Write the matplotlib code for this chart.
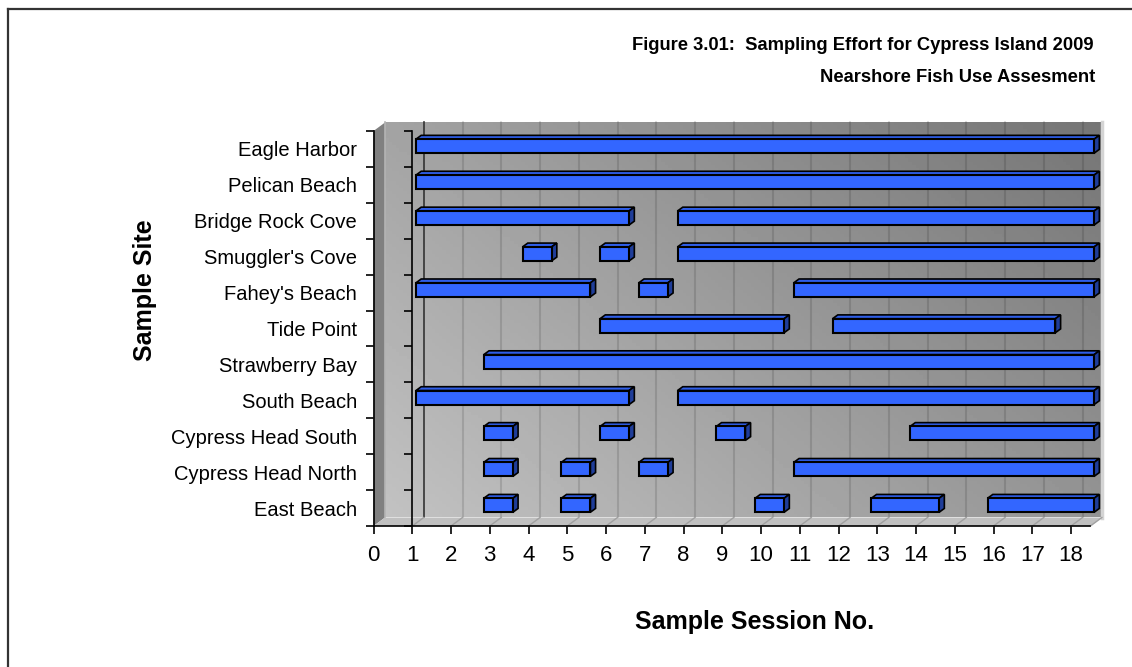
import numpy as np
import matplotlib
matplotlib.use("Agg")
import matplotlib.pyplot as plt
import matplotlib.transforms as mtransforms
from matplotlib.patches import Polygon
from matplotlib.lines import Line2D

plt.rcParams['font.family'] = ['Liberation Sans', 'DejaVu Sans']

# sites listed bottom to top
sites = ["East Beach", "Cypress Head North", "Cypress Head South", "South Beach",
         "Strawberry Bay", "Tide Point", "Fahey's Beach", "Smuggler's Cove",
         "Bridge Rock Cove", "Pelican Beach", "Eagle Harbor"]
seg_starts = [[2.75, 4.75, 9.75, 12.75, 15.75],
              [2.75, 4.75, 6.75, 10.75],
              [2.75, 5.75, 8.75, 13.75],
              [1, 7.75],
              [2.75],
              [5.75, 11.75],
              [1, 6.75, 10.75],
              [3.75, 5.75, 7.75],
              [1, 7.75],
              [1],
              [1]]
seg_ends = [[3.5, 5.5, 10.5, 14.5, 18.5],
            [3.5, 5.5, 7.5, 18.5],
            [3.5, 6.5, 9.5, 18.5],
            [6.5, 18.5],
            [18.5],
            [10.5, 17.5],
            [5.5, 7.5, 18.5],
            [4.5, 6.5, 18.5],
            [6.5, 18.5],
            [18.5],
            [18.5]]
sessions = list(range(19))
xmax = 18.5

W, H = 1132, 667
fig = plt.figure(figsize=(W / 100, H / 100), dpi=100)
ax = fig.add_axes([373.5 / W, (H - 526) / H, (1090.4 - 373.5) / W, (526 - 131) / H])
ax.set_xlim(0, xmax)
ax.set_ylim(0, len(sites))
for s in ax.spines.values():
    s.set_visible(False)

back = mtransforms.offset_copy(ax.transData, fig=fig, x=11.5, y=8.5, units='dots')
bar_tr = mtransforms.offset_copy(ax.transData, fig=fig, x=3.75, y=2.8, units='dots')
ident = mtransforms.IdentityTransform()
n = len(sites)

# back wall with gradient (light lower-left, darker upper-right)
gx, gy = np.meshgrid(np.linspace(0, 1, 200), np.linspace(0, 1, 120))
shade = 0.76 - 0.30 * (0.6 * gx + 0.4 * gy)
ax.imshow(shade, extent=(0, xmax, 0, n), origin='lower', cmap='gray',
          vmin=0, vmax=1, aspect='auto', transform=back, clip_on=False, zorder=0)
for x in sessions[2:]:
    ax.plot([x, x], [0, n], color='black', alpha=0.12, lw=1.5, transform=back,
            clip_on=False, zorder=1)
ax.plot([1, 1], [0, n], color='#333333', lw=1.2, transform=back, clip_on=False, zorder=1)
ax.plot([xmax, xmax], [0, n], color='#d4d4d4', lw=2.5, transform=back, clip_on=False, zorder=1)


def disp(tr, pts):
    return tr.transform(np.array(pts, dtype=float))


# left wall
lw_pts = np.vstack([disp(ax.transData, [(0, 0), (0, n)]), disp(back, [(0, n), (0, 0)])])
ax.add_patch(Polygon(lw_pts, closed=True, facecolor='#808080', edgecolor='none',
                     transform=ident, clip_on=False, zorder=2))
ax.plot([0, 0], [0, n], color='#b4b4b4', lw=1.2, transform=back, clip_on=False, zorder=2)

# floor
fl_pts = np.vstack([disp(ax.transData, [(0, 0), (xmax, 0)]), disp(back, [(xmax, 0), (0, 0)])])
ax.add_patch(Polygon(fl_pts, closed=True, facecolor='#c0c0c0', edgecolor='none',
                     transform=ident, clip_on=False, zorder=2))
for x in sessions[1:] + [xmax]:
    p = np.vstack([disp(ax.transData, [(x, 0)]), disp(back, [(x, 0)])])
    ax.plot(p[:, 0], p[:, 1], color='#a0a0a0', lw=1, transform=ident, clip_on=False, zorder=2)

# bars
bh = 0.39
dx, dy = 5.2, 3.8
for i, site in enumerate(sites):
    yc = i + 0.5
    for a, b in zip(seg_starts[i], seg_ends[i]):
        ax.barh(yc, b - a, left=a, height=bh, color='#3366ff', edgecolor='black',
                linewidth=1.5, transform=bar_tr, clip_on=False, zorder=5)
        (x0, y0), (x1, y1) = disp(bar_tr, [(a, yc - bh / 2), (b, yc + bh / 2)])
        top = [(x0, y1), (x0 + dx, y1 + dy), (x1 + dx, y1 + dy), (x1, y1)]
        side = [(x1, y0), (x1, y1), (x1 + dx, y1 + dy), (x1 + dx, y0 + dy)]
        ax.add_patch(Polygon(top, closed=True, facecolor='#2f5ee8', edgecolor='black',
                             linewidth=1.2, transform=ident, clip_on=False, zorder=4))
        ax.add_patch(Polygon(side, closed=True, facecolor='#1f3d99', edgecolor='black',
                             linewidth=1.2, transform=ident, clip_on=False, zorder=4))

# front axes lines
ax.plot([0, xmax], [0, 0], color='black', lw=1.2, clip_on=False, zorder=6)
ax.plot([0, 0], [0, n], color='black', lw=1.2, clip_on=False, zorder=6)
ax.plot([1, 1], [0, n], color='black', lw=1.2, clip_on=False, zorder=6)
ax.plot([1] * (n + 1), range(n + 1), ls='none', marker=0, ms=6, mew=1.2,
        color='black', clip_on=False, zorder=6)

ax.set_xticks(sessions)
ax.set_xticklabels([str(s) for s in sessions], fontsize=16)
ax.tick_params(axis='x', direction='out', length=6, width=1.2, pad=8)
ax.set_yticks(range(n + 1))
ax.set_yticklabels([])
ax.tick_params(axis='y', which='major', direction='out', length=6, width=1.2)
ax.set_yticks([i + 0.5 for i in range(n)], minor=True)
ax.set_yticklabels(sites, minor=True, fontsize=14.5)
ax.tick_params(axis='y', which='minor', length=0, pad=12)

fig.text(1094 / W, 1 - 45 / H, "Figure 3.01:  Sampling Effort for Cypress Island 2009",
         ha='right', va='center', fontsize=13.2, fontweight='bold')
fig.text(1095 / W, 1 - 77 / H, "Nearshore Fish Use Assesment",
         ha='right', va='center', fontsize=13.2, fontweight='bold')
fig.text(145 / W, 1 - 290 / H, "Sample Site", rotation=90, ha='center', va='center',
         fontsize=18, fontweight='bold')
fig.text(755 / W, 1 - 622 / H, "Sample Session No.", ha='center', va='center',
         fontsize=18, fontweight='bold')

fig.add_artist(Line2D([7.5 / W, 7.5 / W], [0, 1 - 8.5 / H], color='#333333', lw=1.6))
fig.add_artist(Line2D([7.5 / W, 1], [1 - 8.5 / H, 1 - 8.5 / H], color='#333333', lw=1.6))

fig.savefig("out.png", dpi=100)
